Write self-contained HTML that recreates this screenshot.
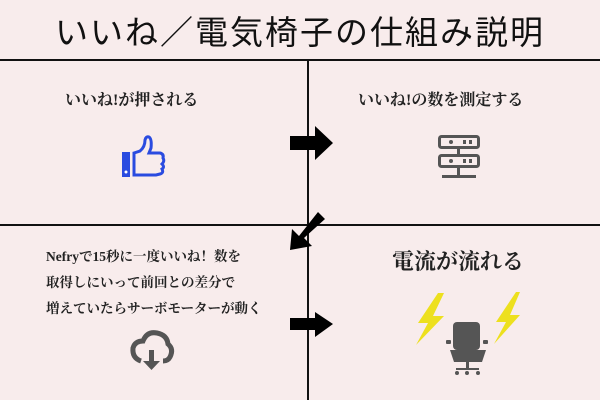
<!DOCTYPE html>
<html><head><meta charset="utf-8"><style>
body{margin:0;width:600px;height:400px;background:#f8ecec;position:relative;overflow:hidden;font-family:"Liberation Serif","Noto Serif CJK SC",serif}
.t{position:absolute;white-space:nowrap;color:#222}
.l{position:absolute;background:#111}
</style></head><body>
<div class="t" style="left:40px;top:10px;width:520px;text-align:center;font-family:'Noto Sans CJK JP',sans-serif;font-size:33px;font-weight:400;letter-spacing:2px;color:#111;line-height:40px">いいね／電気椅子の仕組み説明</div>
<div class="l" style="left:0;top:59px;width:600px;height:2px"></div>
<div class="l" style="left:0;top:224px;width:600px;height:2px"></div>
<div class="l" style="left:307px;top:59px;width:2px;height:341px"></div>

<div class="t" style="left:65px;top:90px;font-size:16px;font-weight:bold;line-height:22px">いいね!が押される</div>
<div class="t" style="left:358px;top:90px;font-size:16px;font-weight:bold;line-height:22px">いいね!の数を測定する</div>
<div class="t" style="left:46px;top:244px;font-size:13.5px;font-weight:bold;line-height:26px">Nefryで15秒に一度いいね！数を<br>取得しにいって前回との差分で<br>増えていたらサーボモーターが動く</div>
<div class="t" style="left:392px;top:248px;font-size:22px;font-weight:bold;line-height:28px">電流が流れる</div>

<svg width="600" height="400" style="position:absolute;left:0;top:0">
<polygon points="290,136 315,136 315,126 333,143 315,160 315,150 290,150" fill="#000"/>
<polygon points="290,318 315,318 315,312 333,324 315,337 315,330 290,330" fill="#000"/>
<polygon points="318,212 325,219 304,238 312,246 290,250 292,229 299,236" fill="#000"/>
<g fill="none" stroke="#2a4be0" stroke-width="3">
<path d="M134,153 L140,151 Q145,147 145,140 Q146,136 149,137 Q152,139 151,148 L149,153 L160,153 Q164,154 163,158 Q165,161 162,164 Q165,167 162,169 Q164,173 160,174 L156,175 L134,175 Z"/>
</g>
<rect x="122" y="152" width="8" height="25" fill="#2a4be0"/>
<circle cx="126" cy="172" r="1.5" fill="#fff"/>
<g fill="#555">
<rect x="439.5" y="136.5" width="39" height="11" rx="2" fill="none" stroke="#555" stroke-width="3"/>
<rect x="439.5" y="155.5" width="39" height="11" rx="2" fill="none" stroke="#555" stroke-width="3"/>
<circle cx="451" cy="142" r="2"/><rect x="463" y="140" width="3" height="4"/><rect x="469" y="140" width="3" height="4"/>
<circle cx="451" cy="161" r="2"/><rect x="463" y="159" width="3" height="4"/><rect x="469" y="159" width="3" height="4"/>
<rect x="457" y="148" width="3" height="6"/><rect x="457" y="168" width="3" height="10"/>
<rect x="442" y="175" width="34" height="3"/>
</g>
<path d="M141,361 Q132,358 133,348 Q135,341 143,341 Q147,331 157,333 Q167,335 168,344 Q174,349 170,357 Q168,361 163,361" fill="none" stroke="#555" stroke-width="5"/>
<rect x="149" y="350" width="5" height="13" fill="#555"/>
<polygon points="143,361 160,361 151.5,370" fill="#555"/>
<polygon points="438,293 418,323 428,323 416,345 444,316 433,316 444,293" fill="#ede01e"/>
<polygon points="516,292 496,322 506,322 494,344 520,315 510,315 520,292" fill="#ede01e"/>
<g fill="#555">
<rect x="453" y="322" width="27" height="28" rx="4"/>
<rect x="446" y="340" width="5" height="4" rx="1"/><rect x="483" y="340" width="5" height="4" rx="1"/>
<path d="M450,350 L486,350 L482,362 L454,362 Z"/>
<rect x="466" y="362" width="3" height="8"/>
<rect x="456" y="368" width="23" height="2"/>
<circle cx="457" cy="373" r="2"/><circle cx="467" cy="373" r="2"/><circle cx="478" cy="373" r="2"/>
</g>
</svg>
</body></html>
